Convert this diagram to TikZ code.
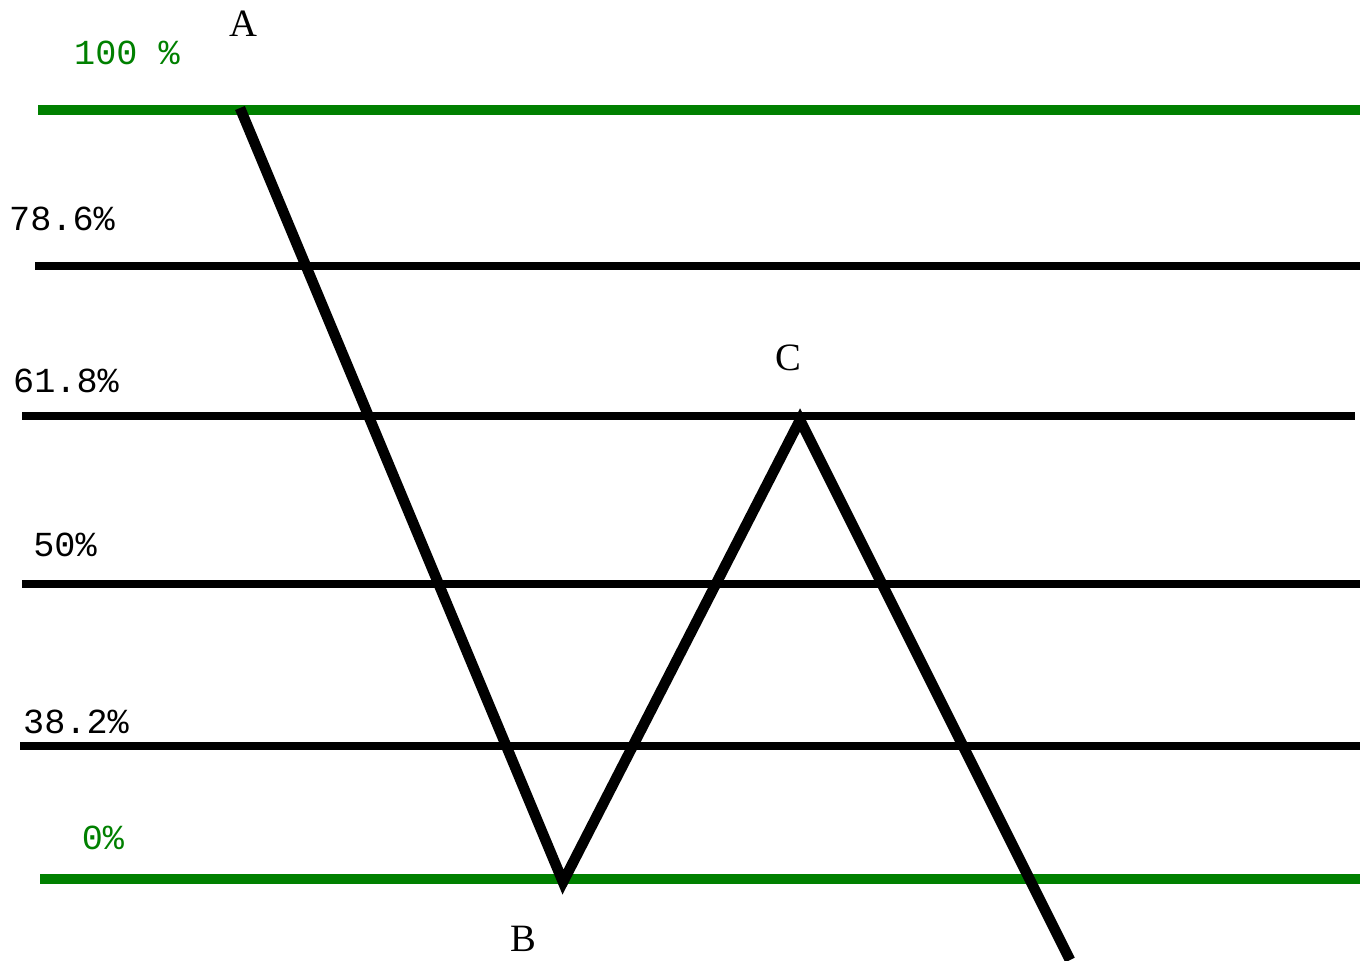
\documentclass[tikz,border=0pt]{standalone}
\usepackage{fontspec}
\setmainfont{Liberation Serif}
\setmonofont{Liberation Mono}
\usetikzlibrary{positioning}
\definecolor{fibgreen}{HTML}{008000}

\begin{document}
\begin{tikzpicture}[x=0.01cm, y=-0.01cm, font=\ttfamily\fontsize{10}{12}\selectfont,
  level/.style={line width=2.1pt, draw=black},
  bound/.style={line width=3pt, draw=fibgreen},
  wave/.style={line width=3pt, draw=black, line join=miter},
  pct/.style={inner sep=0pt},
  pivot/.style={inner sep=0pt, font=\rmfamily\fontsize{11}{13}\selectfont}]
  \useasboundingbox (0,0) rectangle (1360,960);

  % retracement levels
  \draw[bound] (38,110) -- (1360,110);
  \draw[level] (35,266) -- (1360,266);
  \draw[level] (22,416) -- (1355,416);
  \draw[level] (22,584) -- (1360,584);
  \draw[level] (20,746) -- (1360,746);
  \draw[bound] (40,879) -- (1360,879);

  \node[pct, text=fibgreen] (l100) at (127,53) {100 \%};
  \node[pct] (l786) at (62,219) {78.6\%};
  \node[pct] (l618) at (66,381) {61.8\%};
  \node[pct] (l50) at (65,545) {50\%};
  \node[pct] (l382) at (76,722) {38.2\%};
  \node[pct, text=fibgreen] (l0) at (103,838) {0\%};

  % swing points
  \coordinate (a) at (240,108);
  \coordinate (b) at (563,882);
  \coordinate (c) at (800,420);
  \coordinate (d) at (1070,960);
  \node[pivot] (la) at (243,24) {A};
  \node[pivot] (lb) at (523,939) {B};
  \node[pivot] (lc) at (788,358) {C};

  \draw[wave] (a) -- (b) -- (c) -- (d);
\end{tikzpicture}
\end{document}
